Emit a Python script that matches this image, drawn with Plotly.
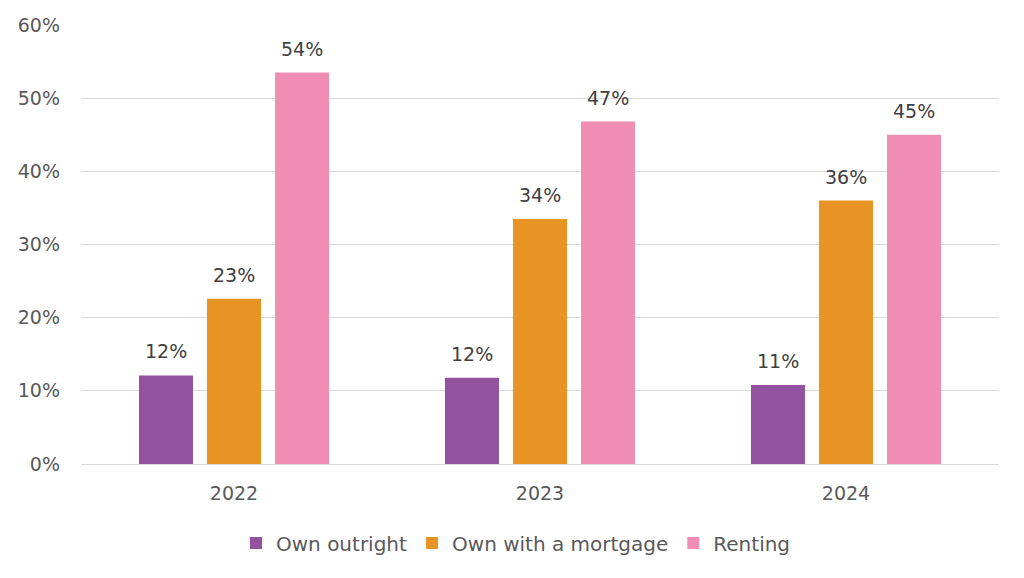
import plotly.graph_objects as go

years = ["2022", "2023", "2024"]
own_outright = [12.1, 11.8, 10.8]
own_mortgage = [22.6, 33.5, 36.0]
renting = [53.5, 46.8, 45.0]
outright_labels = ["12%", "12%", "11%"]
mortgage_labels = ["23%", "34%", "36%"]
renting_labels = ["54%", "47%", "45%"]
series_names = ["Own outright", "Own with a mortgage", "Renting"]
colors = ["#93529F", "#E89424", "#F08DB2"]
y_ticks = [0, 10, 20, 30, 40, 50, 60]

FONT = "DejaVu Sans"
# page body has an 8px margin, so figure is 8px smaller than the window
W, H = 1016, 570
ML, MR, MT, MB = 73, 25, 17, 114
BARGAP, BARGROUPGAP = 0.333, 0.206

series = [(own_outright, outright_labels), (own_mortgage, mortgage_labels), (renting, renting_labels)]

fig = go.Figure()
for name, (vals, _), col in zip(series_names, series, colors):
    fig.add_trace(go.Bar(
        x=years, y=vals, name=name, marker=dict(color=col, line=dict(width=0)),
        hoverinfo="skip",
    ))

# data labels as annotations above each bar (x given as category index)
cat_px = (W - ML - MR) / len(years)
slot_px = cat_px * (1 - BARGAP) / len(series)
for i, (vals, labels) in enumerate(series):
    for j, (v, lab) in enumerate(zip(vals, labels)):
        fig.add_annotation(x=j, y=v, text=lab, showarrow=False,
                           xshift=(i - (len(series) - 1) / 2) * slot_px,
                           yanchor="middle", yshift=24,
                           font=dict(family=FONT, size=19, color="#404040"))

# legend centred on the page rather than on the plot area
legend_x = (W / 2 - ML) / (W - ML - MR)

fig.update_layout(
    width=W, height=H,
    barmode="group", bargap=BARGAP, bargroupgap=BARGROUPGAP,
    plot_bgcolor="white", paper_bgcolor="white",
    margin=dict(l=ML, r=MR, t=MT, b=MB),
    font=dict(family=FONT, size=19, color="#595959"),
    legend=dict(orientation="h", x=legend_x, xanchor="center",
                y=-0.18, yanchor="middle",
                font=dict(family=FONT, size=20, color="#595959"),
                itemwidth=30, tracegroupgap=0),
    showlegend=True,
)
fig.update_yaxes(range=[0, 60], tickvals=y_ticks, ticktext=[f"{t}%" for t in y_ticks],
                 showgrid=True, gridcolor="#D9D9D9", gridwidth=1, zeroline=False,
                 showline=False, ticks="", ticklabelstandoff=20, automargin=False,
                 tickfont=dict(family=FONT, size=19, color="#595959"))
fig.update_xaxes(type="category", range=[-0.5, len(years) - 0.5],
                 showline=True, linecolor="#D9D9D9", linewidth=1, ticks="",
                 automargin=False,
                 tickfont=dict(family=FONT, size=19, color="#595959"), ticklabelstandoff=12)
fig.write_html("out.html")
